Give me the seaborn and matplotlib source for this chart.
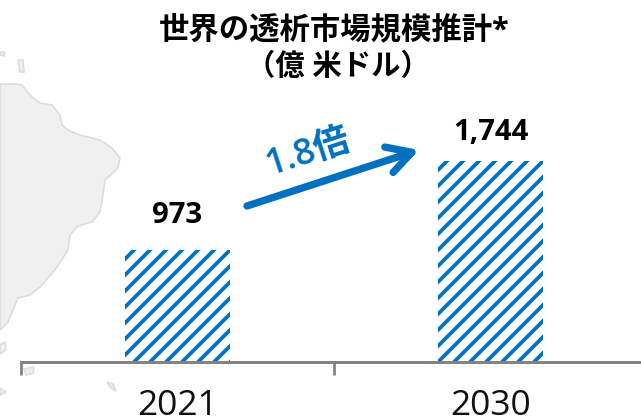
import matplotlib
matplotlib.use("Agg")
import matplotlib.pyplot as plt
from matplotlib.patches import Polygon
import seaborn as sns

# chart values
years = ["2021", "2030"]
market = [973, 1744]
bar_labels = ["973", "1,744"]

BLUE = "#0070C0"
W, H, DPI = 641, 417, 96

sns.set_style("white")
plt.rcParams["font.family"] = ["Open Sans", "Noto Sans CJK JP", "DejaVu Sans"]
plt.rcParams["hatch.linewidth"] = 2.8

fig = plt.figure(figsize=(W / DPI, H / DPI), dpi=DPI)

# background map, in pixel coordinates
bg = fig.add_axes([0, 0, 1, 1], zorder=0)
bg.set_xlim(0, W)
bg.set_ylim(H, 0)
bg.axis("off")
land = [(0, 84), (15, 84), (22, 85), (30, 95), (40, 103), (52, 105), (60, 115), (62, 125),
        (68, 130), (80, 135), (100, 140), (112, 148), (120, 158), (118, 168), (105, 180),
        (103, 195), (100, 212), (92, 222), (78, 226), (70, 235), (68, 250), (55, 270),
        (40, 287), (30, 295), (18, 298), (13, 310), (8, 322), (0, 330)]
islands = [[(18, 60), (23, 60), (24, 72), (20, 72)],
           [(0, 52), (5, 52), (4, 56), (0, 55)],
           [(0, 345), (5, 342), (6, 350), (0, 354)],
           [(24, 369), (34, 367), (33, 373), (26, 375)],
           [(0, 388), (6, 392), (0, 395)],
           [(107, 382), (113, 384), (116, 391), (111, 388)]]
for pts in [land] + islands:
    bg.add_patch(Polygon(pts, closed=True, facecolor="#F0F0F0", edgecolor="#DCDCDC", lw=1.2))

# bars
ax = fig.add_axes([21 / W, (H - 362) / H, 626 / W, 362 / H], zorder=1)
ax.patch.set_alpha(0)
sns.barplot(x=years, y=market, ax=ax, color="white", edgecolor=BLUE, hatch="//",
            linewidth=0, width=0.336, saturation=1)
ax.set_xlim(-0.5, 1.5)
ax.set_ylim(0, 362 / 0.1155)
ax.set_yticks([])
for s in ["top", "left", "right"]:
    ax.spines[s].set_visible(False)
ax.spines["bottom"].set_color("#808080")
ax.spines["bottom"].set_linewidth(2.2)
ax.set_xticks([-0.5, 0.5], minor=True)
ax.tick_params(axis="x", which="minor", bottom=True, length=10, width=2, color="#808080")
ax.tick_params(axis="x", which="major", bottom=False, length=0, pad=20, labelsize=26.5, labelcolor="#111111")

label_offsets = [15, 10]
for i, lab in enumerate(bar_labels):
    ax.annotate(lab, (i, market[i]), xytext=(0, label_offsets[i]), textcoords="offset points",
                ha="center", va="bottom", fontsize=22, fontweight="bold", color="black")

# title
fig.text(334 / W, 1 - 30 / H, "世界の透析市場規模推計*", ha="center", va="center",
         fontsize=22.8, fontweight="bold", color="black")
fig.text(338 / W, 1 - 67 / H, "（億 米ドル）", ha="center", va="center",
         fontsize=22, fontweight="bold", color="black")

# growth arrow
top = fig.add_axes([0, 0, 1, 1], zorder=2)
top.set_xlim(0, W)
top.set_ylim(H, 0)
top.axis("off")
top.annotate("", xy=(419, 150), xytext=(247, 206),
             arrowprops=dict(arrowstyle="->,head_length=1.8,head_width=1.0", color=BLUE, lw=5.5,
                             shrinkA=0, shrinkB=0))
top.text(308, 153, "1.8倍", rotation=18, rotation_mode="anchor", ha="center", va="center",
         fontsize=27, fontweight="semibold", color=BLUE)

fig.savefig("out.png", dpi=DPI)
